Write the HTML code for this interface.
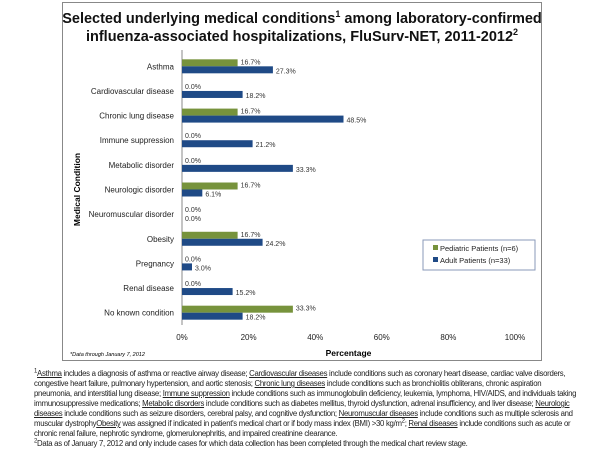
<!DOCTYPE html>
<html><head><meta charset="utf-8"><style>
body{margin:0;width:600px;height:450px;background:#fff;font-family:"Liberation Sans",sans-serif;position:relative;overflow:hidden}
#box{position:absolute;left:62px;top:2px;width:480px;height:359px;border:1px solid #888;box-sizing:border-box}
.t{position:absolute;left:62px;width:480px;text-align:center;font-weight:bold;font-size:14.5px;color:#111}
#fn{position:absolute;left:34px;top:369px;width:545px;font-size:7.8px;line-height:10px;color:#222;letter-spacing:-0.3px}
#fn sup{line-height:0;font-size:6px}
#fn u{text-decoration:underline}
</style></head><body>
<div id="box"></div>
<div class="t" style="top:9px">Selected underlying medical conditions<sup style="font-size:9px">1</sup> among laboratory-confirmed<br>influenza-associated hospitalizations, FluSurv-NET, 2011-2012<sup style="font-size:9px">2</sup></div>
<svg id="chart" width="600" height="450" style="position:absolute;left:0;top:0"></svg>
<div id="fn"><sup>1</sup><u>Asthma</u> includes a diagnosis of asthma or reactive airway disease; <u>Cardiovascular diseases</u> include conditions such as coronary heart disease, cardiac valve disorders, congestive heart failure, pulmonary hypertension, and aortic stenosis; <u>Chronic lung diseases</u> include conditions such as bronchiolitis obliterans, chronic aspiration pneumonia, and interstitial lung disease; <u>Immune suppression</u> include conditions such as immunoglobulin deficiency, leukemia, lymphoma, HIV/AIDS, and individuals taking immunosuppressive medications; <u>Metabolic disorders</u> include conditions such as diabetes mellitus, thyroid dysfunction, adrenal insufficiency, and liver disease; <u>Neurologic diseases</u> include conditions such as seizure disorders, cerebral palsy, and cognitive dysfunction; <u>Neuromuscular diseases</u> include conditions such as multiple sclerosis and muscular dystrophy<u>Obesity</u> was assigned if indicated in patient's medical chart or if body mass index (BMI) &gt;30 kg/m<sup>2</sup>; <u>Renal diseases</u> include conditions such as acute or chronic renal failure, nephrotic syndrome, glomerulonephritis, and impaired creatinine clearance.<br><sup>2</sup>Data as of January 7, 2012 and only include cases for which data collection has been completed through the medical chart review stage.</div>
<script>
const categories=["Asthma","Cardiovascular disease","Chronic lung disease","Immune suppression","Metabolic disorder","Neurologic disorder","Neuromuscular disorder","Obesity","Pregnancy","Renal disease","No known condition"];
const pediatric=[16.7,0,16.7,0,0,16.7,0,16.7,0,0,33.3];
const adult=[27.3,18.2,48.5,21.2,33.3,6.1,0,24.2,3.0,15.2,18.2];
const xTicks=[0,20,40,60,80,100];
const svg=document.getElementById('chart');const NS="http://www.w3.org/2000/svg";
const x0=182,x1=515,plotTop=54,plotBot=325;
const xs=v=>x0+(x1-x0)*v/100;
const band=(plotBot-plotTop)/categories.length;
function mk(t,a,txt){const e=document.createElementNS(NS,t);for(const k in a)e.setAttribute(k,a[k]);if(txt!=null)e.textContent=txt;svg.appendChild(e);return e;}
let ax=mk('line',{x1:x0,y1:plotTop-4,x2:x0,y2:plotBot,stroke:'#888'});

xTicks.forEach(t=>{const l=mk('text',{x:xs(t),y:plotBot+15,'font-size':8,'text-anchor':'middle',fill:'#222'},t+'%');
});
categories.forEach((c,i)=>{const cy=plotTop+band*(i+0.5);
const l=mk('text',{x:x0-8,y:cy+3,'font-size':8,'text-anchor':'end',fill:'#222'},c);

const g=mk('rect',{x:x0,y:cy-7,width:Math.max(xs(pediatric[i])-x0,0),height:7,fill:'#77933C'});

const b=mk('rect',{x:x0,y:cy,width:Math.max(xs(adult[i])-x0,0),height:7,fill:'#1F4A86'});

const gl=mk('text',{x:xs(pediatric[i])+3,y:cy-2,'font-size':7,fill:'#333'},pediatric[i].toFixed(1)+'%');

const bl=mk('text',{x:xs(adult[i])+3,y:cy+7,'font-size':7,fill:'#333'},adult[i].toFixed(1)+'%');
});
let xt=mk('text',{x:(x0+x1)/2,y:plotBot+31,'font-size':8.5,'font-weight':'bold','text-anchor':'middle'},'Percentage');

let yt=mk('text',{x:0,y:0,'font-size':8.5,'font-weight':'bold','text-anchor':'middle',transform:`translate(80,${(plotTop+plotBot)/2}) rotate(-90)`},'Medical Condition');

let dn=mk('text',{x:70,y:356,'font-size':5.5,'font-style':'italic'},'*Data through January 7, 2012');

let lg=mk('rect',{x:423,y:240,width:112,height:30,fill:'#fff',stroke:'#8a9ab8'});

[['#77933C','Pediatric Patients (n=6)'],['#1F4A86','Adult Patients (n=33)']].forEach((d,i)=>{
const s=mk('rect',{x:433,y:245+i*12,width:5,height:5,fill:d[0]});

const t=mk('text',{x:440,y:251+i*12,'font-size':7.5,fill:'#222'},d[1]);
});
</script>
</body></html>
